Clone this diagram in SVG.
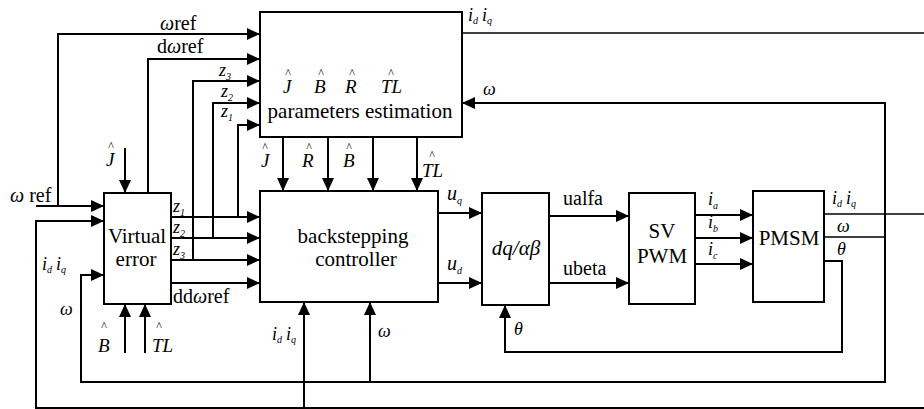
<svg xmlns="http://www.w3.org/2000/svg" width="924" height="409" viewBox="0 0 924 409" font-family="'Liberation Serif', 'DejaVu Serif', serif">
<defs>
<marker id="ah" markerUnits="userSpaceOnUse" markerWidth="13" markerHeight="12" refX="13" refY="6" orient="auto">
<path d="M0,0 L13,6 L0,12 Z" fill="#000"/>
</marker>
<style>
.box{fill:#fff;stroke:#000;stroke-width:2}
.ln{fill:none;stroke:#000;stroke-width:2}
.th{fill:none;stroke:#000;stroke-width:1.5}
.a{marker-end:url(#ah)}
text{font-family:'Liberation Serif','DejaVu Serif',serif;fill:#000}
.big{font-size:21px;text-anchor:middle}
.lb{font-size:20px}
.it{font-style:italic}
.sm{font-size:18px;font-style:italic}
.sub{font-size:10px;font-style:italic}
.hat{font-size:12px;text-anchor:middle}
.hl{font-size:19px;font-style:italic}
</style>
</defs>
<rect width="924" height="409" fill="#fff"/>
<g id="connectors">
<path class="ln a" d="M36,206 H104"/>
<path class="ln a" d="M58,206 V34 H260"/>
<path class="ln a" d="M148,193 V59 H260"/>
<path class="ln a" d="M193,260 V81 H260"/>
<path class="ln a" d="M213,238 V103 H260"/>
<path class="ln a" d="M238,217 V125 H260"/>
<path class="ln a" d="M125,148 V193"/>
<path class="ln a" d="M171,217 H260"/>
<path class="ln a" d="M171,238 H260"/>
<path class="ln a" d="M171,260 H260"/>
<path class="ln a" d="M171,283 H260"/>
<path class="ln a" d="M125,353 V304"/>
<path class="ln a" d="M145,353 V304"/>
<path class="ln a" d="M283,137 V191"/>
<path class="ln a" d="M328,137 V191"/>
<path class="ln a" d="M373,137 V191"/>
<path class="ln a" d="M417,137 V191"/>
<path class="ln a" d="M438,213 H482"/>
<path class="ln a" d="M438,283 H482"/>
<path class="ln a" d="M549,216 H629"/>
<path class="ln a" d="M549,283 H629"/>
<path class="ln a" d="M695,215 H753"/>
<path class="ln a" d="M695,238 H753"/>
<path class="ln a" d="M695,264 H753"/>
<path class="th" d="M824,214 H924"/>
<path class="th" d="M462,33 H924"/>
<path class="th" d="M824,237 H885"/>
<path class="ln a" d="M885,237 V103 H462"/>
<path class="ln a" d="M885,237 V382 H81 V275 H104"/>
<path class="ln a" d="M370,382 V302"/>
<path class="ln a" d="M824,261 H842 V352 H505 V305"/>
<path class="ln a" d="M924,408 H36 V221 H104"/>
<path class="ln a" d="M304,408 V302"/>
</g>
<g id="param-estimation">
<rect class="box" x="260" y="12" width="202" height="125"/>
<text class="hat" x="288" y="77">^</text><text class="hl" x="283" y="93">J</text>
<text class="hat" x="321" y="77">^</text><text class="hl" x="314" y="93">B</text>
<text class="hat" x="352" y="77">^</text><text class="hl" x="345" y="93">R</text>
<text class="hat" x="391" y="77">^</text><text class="hl" x="381" y="93">TL</text>
<text class="big" x="360" y="118">parameters estimation</text>
</g>
<g id="backstepping-controller">
<rect class="box" x="260" y="191" width="178" height="111"/>
<text class="big" x="353" y="243">backstepping</text>
<text class="big" x="356" y="266">controller</text>
</g>
<g id="virtual-error">
<rect class="box" x="104" y="193" width="67" height="111"/>
<text class="big" x="137" y="243">Virtual</text>
<text class="big" x="136" y="266">error</text>
</g>
<g id="dq-ab">
<rect class="box" x="482" y="193" width="67" height="112"/>
<text class="big it" x="516" y="255">dq/αβ</text>
</g>
<g id="sv-pwm">
<rect class="box" x="629" y="193" width="66" height="111"/>
<text class="big" x="662" y="238">SV</text>
<text class="big" x="662" y="263">PWM</text>
</g>
<g id="pmsm">
<rect class="box" x="753" y="191" width="71" height="111"/>
<text class="big" x="789" y="245">PMSM</text>
</g>
<g id="labels">
<text class="lb" x="160" y="30"><tspan class="it">ω</tspan>ref</text>
<text class="lb" x="157" y="53">d<tspan class="it">ω</tspan>ref</text>
<text class="lb" x="10" y="202"><tspan class="it">ω</tspan> ref</text>
<text class="lb" x="173" y="303">dd<tspan class="it">ω</tspan>ref</text>
<text class="lb" x="563" y="205">ualfa</text>
<text class="lb" x="563" y="275">ubeta</text>
<text class="sm" x="219" y="76">z<tspan class="sub" dy="4">3</tspan></text>
<text class="sm" x="221" y="97">z<tspan class="sub" dy="4">2</tspan></text>
<text class="sm" x="221" y="117">z<tspan class="sub" dy="4">1</tspan></text>
<text class="sm" x="173" y="212">z<tspan class="sub" dy="4">1</tspan></text>
<text class="sm" x="173" y="233">z<tspan class="sub" dy="4">2</tspan></text>
<text class="sm" x="173" y="255">z<tspan class="sub" dy="4">3</tspan></text>
<text class="hat" x="111" y="150">^</text><text class="hl" x="106" y="166">J</text>
<text class="hat" x="265" y="151">^</text><text class="hl" x="261" y="167">J</text>
<text class="hat" x="309" y="151">^</text><text class="hl" x="302" y="167">R</text>
<text class="hat" x="349" y="151">^</text><text class="hl" x="343" y="167">B</text>
<text class="hat" x="432" y="159">^</text><text class="hl" x="422" y="177">TL</text>
<text class="hat" x="104" y="330">^</text><text class="hl" x="98" y="352">B</text>
<text class="hat" x="159" y="330">^</text><text class="hl" x="152" y="352">TL</text>
<text class="sm" x="468" y="21">i<tspan class="sub" dy="3">d</tspan><tspan dx="4" dy="-3">i</tspan><tspan class="sub" dy="3">q</tspan></text>
<text class="sm" x="42" y="270">i<tspan class="sub" dy="3">d</tspan><tspan dx="4" dy="-3">i</tspan><tspan class="sub" dy="3">q</tspan></text>
<text class="sm" x="272" y="340">i<tspan class="sub" dy="3">d</tspan><tspan dx="4" dy="-3">i</tspan><tspan class="sub" dy="3">q</tspan></text>
<text class="sm" x="832" y="204">i<tspan class="sub" dy="3">d</tspan><tspan dx="4" dy="-3">i</tspan><tspan class="sub" dy="3">q</tspan></text>
<text class="sm" x="483" y="95">ω</text>
<text class="sm" x="60" y="315">ω</text>
<text class="sm" x="378" y="337">ω</text>
<text class="sm" x="837" y="232">ω</text>
<text class="sm" x="837" y="255">θ</text>
<text class="sm" x="514" y="335">θ</text>
<text class="lb it" x="447" y="200">u<tspan class="sub" dy="4">q</tspan></text>
<text class="lb it" x="447" y="270">u<tspan class="sub" dy="4">d</tspan></text>
<text class="sm" x="708" y="205">i<tspan class="sub" dy="4">a</tspan></text>
<text class="sm" x="708" y="228">i<tspan class="sub" dy="4">b</tspan></text>
<text class="sm" x="708" y="255">i<tspan class="sub" dy="4">c</tspan></text>
</g>
</svg>
